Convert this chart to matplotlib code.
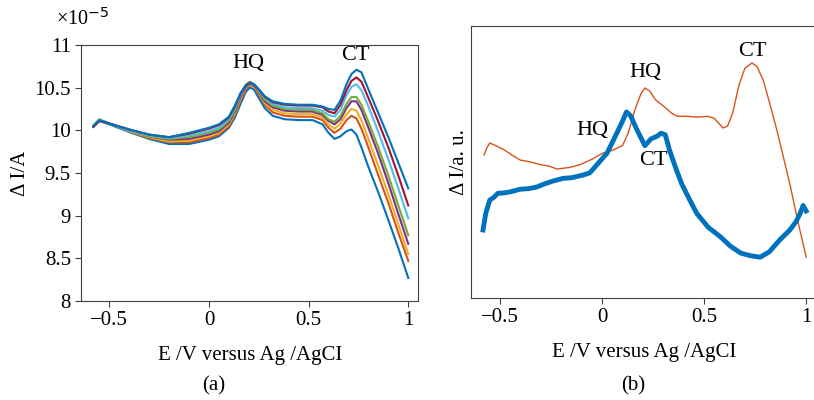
import numpy as np
import matplotlib.pyplot as plt

plt.rcParams['font.family'] = ['Liberation Serif', 'DejaVu Serif']
plt.rcParams['axes.unicode_minus'] = True

# ---------------- panel (a): DPV curves, current in units of 1e-5 A
x_a = [-0.58, -0.55, -0.5, -0.4, -0.3, -0.2, -0.1, 0.0, 0.05, 0.1, 0.13, 0.16,
       0.185, 0.205, 0.225, 0.25, 0.28, 0.32, 0.38, 0.45, 0.52, 0.57, 0.6, 0.63,
       0.66, 0.69, 0.715, 0.74, 0.765, 0.8, 0.85, 0.9, 0.95, 1.0]

c1 = [10.04, 10.11, 10.07, 9.98, 9.90, 9.84, 9.84, 9.89, 9.93, 10.03, 10.15, 10.32,
      10.45, 10.50, 10.48, 10.38, 10.26, 10.17, 10.13, 10.12, 10.12, 10.07, 9.97, 9.90,
      9.93, 9.99, 10.01, 9.95, 9.80, 9.57, 9.27, 8.95, 8.62, 8.27]
c2 = [10.05, 10.12, 10.08, 9.99, 9.91, 9.86, 9.86, 9.91, 9.95, 10.05, 10.18, 10.36,
      10.48, 10.53, 10.51, 10.42, 10.30, 10.21, 10.17, 10.16, 10.16, 10.12, 10.03, 9.97,
      10.02, 10.12, 10.17, 10.14, 10.02, 9.80, 9.47, 9.15, 8.80, 8.47]
c3 = [10.05, 10.12, 10.08, 9.99, 9.92, 9.87, 9.88, 9.93, 9.97, 10.07, 10.20, 10.38,
      10.50, 10.54, 10.52, 10.44, 10.32, 10.24, 10.20, 10.19, 10.19, 10.15, 10.07, 10.02,
      10.08, 10.19, 10.25, 10.23, 10.12, 9.90, 9.58, 9.25, 8.90, 8.55]
c4 = [10.05, 10.12, 10.08, 10.00, 9.93, 9.89, 9.90, 9.95, 9.99, 10.09, 10.22, 10.40,
      10.51, 10.55, 10.53, 10.45, 10.34, 10.27, 10.23, 10.22, 10.22, 10.18, 10.11, 10.07,
      10.13, 10.26, 10.34, 10.34, 10.24, 10.03, 9.72, 9.38, 9.02, 8.67]
c5 = [10.06, 10.13, 10.08, 10.00, 9.93, 9.90, 9.92, 9.97, 10.01, 10.11, 10.24, 10.42,
      10.53, 10.57, 10.54, 10.46, 10.36, 10.29, 10.25, 10.24, 10.24, 10.20, 10.13, 10.10,
      10.17, 10.31, 10.39, 10.39, 10.30, 10.10, 9.80, 9.47, 9.12, 8.77]
c6 = [10.05, 10.12, 10.08, 10.00, 9.94, 9.91, 9.94, 9.99, 10.03, 10.13, 10.26, 10.43,
      10.53, 10.56, 10.54, 10.47, 10.38, 10.31, 10.27, 10.26, 10.26, 10.23, 10.18, 10.16,
      10.24, 10.41, 10.51, 10.54, 10.47, 10.28, 9.98, 9.66, 9.32, 8.97]
c7 = [10.04, 10.11, 10.08, 10.01, 9.95, 9.92, 9.96, 10.02, 10.06, 10.15, 10.28, 10.44,
      10.53, 10.56, 10.54, 10.48, 10.39, 10.33, 10.30, 10.29, 10.29, 10.27, 10.22, 10.20,
      10.30, 10.47, 10.58, 10.62, 10.57, 10.38, 10.10, 9.80, 9.47, 9.12]
c8 = [10.05, 10.12, 10.08, 10.01, 9.95, 9.92, 9.97, 10.03, 10.07, 10.16, 10.29, 10.44,
      10.52, 10.55, 10.54, 10.48, 10.40, 10.34, 10.31, 10.30, 10.30, 10.28, 10.25, 10.24,
      10.35, 10.54, 10.66, 10.71, 10.68, 10.48, 10.20, 9.92, 9.62, 9.32]

curves_a = [c1, c2, c3, c4, c5, c6, c7, c8]
colors_a = ['#0072BD', '#D95319', '#EDB120', '#7E2F8E', '#77AC30', '#4DBEEE', '#A2142F', '#0072BD']

# ---------------- panel (b): normalised curves (arbitrary units)
x_orange = [-0.578, -0.565, -0.55, -0.52, -0.48, -0.44, -0.40, -0.35, -0.30, -0.26, -0.22,
            -0.16, -0.108, -0.05, 0.005, 0.054, 0.10, 0.13, 0.16, 0.19, 0.21, 0.235,
            0.26, 0.285, 0.31, 0.34, 0.37, 0.42, 0.47, 0.52, 0.55, 0.575, 0.593, 0.615,
            0.64, 0.67, 0.70, 0.735, 0.76, 0.79, 0.82, 0.86, 0.92, 0.96, 1.0]
y_orange = [0.526, 0.55, 0.57, 0.56, 0.545, 0.525, 0.507, 0.50, 0.49, 0.485, 0.474,
            0.48, 0.49, 0.51, 0.533, 0.544, 0.56, 0.61, 0.69, 0.75, 0.772, 0.76,
            0.73, 0.715, 0.70, 0.68, 0.668, 0.668, 0.665, 0.668, 0.66, 0.64, 0.625, 0.632,
            0.68, 0.78, 0.845, 0.864, 0.85, 0.80, 0.72, 0.607, 0.42, 0.28, 0.15]

x_blue = [-0.583, -0.57, -0.55, -0.53, -0.51, -0.485, -0.45, -0.40, -0.36, -0.32, -0.28,
          -0.24, -0.19, -0.15, -0.093, -0.06, -0.025, 0.025, 0.073, 0.10, 0.12, 0.14,
          0.17, 0.21, 0.24, 0.27, 0.29, 0.31, 0.33, 0.36, 0.39, 0.43, 0.465, 0.52,
          0.58, 0.63, 0.68, 0.73, 0.775, 0.82, 0.87, 0.92, 0.95, 0.97, 0.985, 1.0]
y_blue = [0.25, 0.31, 0.36, 0.37, 0.385, 0.386, 0.39, 0.40, 0.402, 0.408, 0.42,
          0.43, 0.44, 0.442, 0.452, 0.46, 0.49, 0.533, 0.607, 0.65, 0.684, 0.67,
          0.62, 0.56, 0.585, 0.595, 0.606, 0.60, 0.545, 0.48, 0.42, 0.36, 0.31, 0.26,
          0.225, 0.19, 0.165, 0.155, 0.15, 0.17, 0.213, 0.25, 0.28, 0.31, 0.34, 0.32]

fig = plt.figure(figsize=(8.14, 4.0), dpi=100)

tick_fs = 15
lab_fs = 15
ann_fs = 16
frame_col = '#404040'

# ----- (a)
ax1 = fig.add_axes([0.1, 0.2475, 0.4138, 0.64])
for y, col in zip(curves_a, colors_a):
    ax1.plot(x_a, y, color=col, lw=1.5)
ax1.set_xlim(-0.64, 1.05)
ax1.set_ylim(8, 11)
ax1.set_xticks([-0.5, 0, 0.5, 1])
ax1.set_xticklabels(['\u22120.5', '0', '0.5', '1'])
ax1.set_yticks([8, 8.5, 9, 9.5, 10, 10.5, 11])
ax1.set_yticklabels(['8', '8.5', '9', '9.5', '10', '10.5', '11'])
ax1.tick_params(labelsize=tick_fs, color=frame_col, direction='out', length=4)
ax1.set_xlabel('E /V versus Ag /AgCI', fontsize=lab_fs, labelpad=11)
ax1.set_ylabel('\u0394 I/A', fontsize=lab_fs, labelpad=3)
ax1.text(-0.075, 1.06, '\u00d710$^{-5}$', transform=ax1.transAxes, fontsize=14.5,
         ha='left', va='bottom')
ax1.text(0.2, 10.78, 'HQ', fontsize=ann_fs, ha='center', va='center')
ax1.text(0.735, 10.88, 'CT', fontsize=ann_fs, ha='center', va='center')
for s in ax1.spines.values():
    s.set_color(frame_col)
fig.text(0.262, 0.035, '(a)', fontsize=lab_fs, ha='center', va='center')

# ----- (b)
ax2 = fig.add_axes([0.5791, 0.255, 0.4238, 0.68])
ax2.plot(x_orange, y_orange, color='#D95319', lw=1.0)
ax2.plot(x_blue, y_blue, color='#0072BD', lw=3.5)
ax2.set_xlim(-0.64, 1.05)
ax2.set_ylim(0, 1)
ax2.set_xticks([-0.5, 0, 0.5, 1])
ax2.set_xticklabels(['\u22120.5', '0', '0.5', '1'])
ax2.set_yticks([])
ax2.tick_params(labelsize=tick_fs, color=frame_col, direction='out', length=4)
ax2.set_xlabel('E /V versus Ag /AgCI', fontsize=lab_fs, labelpad=11)
ax2.set_ylabel('\u0394 I/a. u.', fontsize=lab_fs, labelpad=2)
ax2.text(-0.045, 0.615, 'HQ', fontsize=ann_fs, ha='center', va='center')
ax2.text(0.25, 0.505, 'CT', fontsize=ann_fs, ha='center', va='center')
ax2.text(0.21, 0.83, 'HQ', fontsize=ann_fs, ha='center', va='center')
ax2.text(0.735, 0.905, 'CT', fontsize=ann_fs, ha='center', va='center')
for s in ax2.spines.values():
    s.set_color(frame_col)
fig.text(0.778, 0.035, '(b)', fontsize=lab_fs, ha='center', va='center')

fig.savefig('out.png', dpi=100)
